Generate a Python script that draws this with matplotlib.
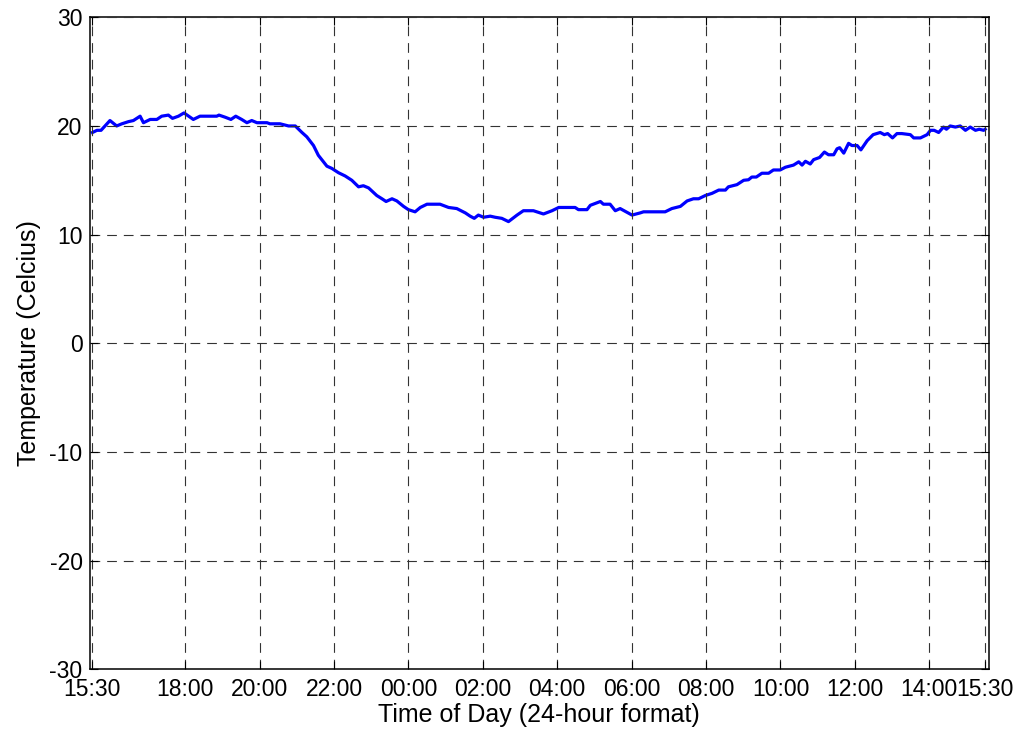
import matplotlib
matplotlib.use("Agg")
import matplotlib.pyplot as plt

# Hours elapsed since 15:30 on the first day, and the logged temperature
hours = [0.01, 0.13, 0.24, 0.48, 0.66, 0.80, 0.98, 1.11, 1.29, 1.38, 1.56, 1.74,
         1.87, 2.05, 2.16, 2.32, 2.47, 2.72, 2.90, 3.35, 3.41, 3.58, 3.73, 3.86,
         4.02, 4.16, 4.29, 4.43, 4.70, 4.78, 5.05, 5.28, 5.46, 5.64, 5.77, 5.95,
         6.08, 6.22, 6.31, 6.44, 6.62, 6.80, 6.98, 7.16, 7.29, 7.43, 7.65, 7.79,
         7.90, 8.06, 8.19, 8.37, 8.50, 8.68, 8.82, 9.00, 9.35, 9.58, 9.80, 10.03,
         10.16, 10.27, 10.38, 10.52, 10.70, 10.83, 11.01, 11.19, 11.42, 11.59,
         11.86, 12.13, 12.36, 12.54, 12.98, 13.07, 13.30, 13.39, 13.66, 13.74,
         13.92, 14.06, 14.19, 14.51, 14.73, 14.82, 15.40, 15.58, 15.81, 15.99,
         16.16, 16.30, 16.48, 16.66, 16.84, 17.02, 17.10, 17.33, 17.51, 17.64,
         17.73, 17.85, 18.00, 18.18, 18.31, 18.49, 18.63, 18.85, 18.99, 19.08,
         19.17, 19.30, 19.39, 19.55, 19.68, 19.79, 19.93, 20.02, 20.09, 20.20,
         20.33, 20.42, 20.56, 20.66, 20.83, 20.99, 21.18, 21.29, 21.38, 21.51,
         21.63, 21.76, 21.99, 22.08, 22.26, 22.44, 22.53, 22.63, 22.75, 22.88,
         22.96, 23.06, 23.20, 23.33, 23.47, 23.60, 23.74, 23.84, 23.96, 24.00]

temperature = [19.4, 19.6, 19.6, 20.5, 20.0, 20.2, 20.4, 20.5, 20.9, 20.3, 20.6, 20.6,
               20.9, 21.0, 20.7, 20.9, 21.2, 20.6, 20.9, 20.9, 21.0, 20.8, 20.6, 20.9,
               20.6, 20.3, 20.5, 20.3, 20.3, 20.2, 20.2, 20.0, 20.0, 19.4, 19.0, 18.2,
               17.3, 16.7, 16.3, 16.1, 15.7, 15.4, 15.0, 14.4, 14.5, 14.3, 13.6, 13.3,
               13.05, 13.3, 13.1, 12.6, 12.3, 12.1, 12.5, 12.8, 12.8, 12.5, 12.4, 12.0,
               11.7, 11.5, 11.8, 11.6, 11.7, 11.6, 11.5, 11.2, 11.8, 12.2,
               12.2, 11.9, 12.2, 12.5, 12.5, 12.3, 12.3, 12.7, 13.05, 12.8,
               12.8, 12.2, 12.4, 11.8, 12.0, 12.1, 12.1, 12.4, 12.6, 13.1,
               13.3, 13.3, 13.6, 13.8, 14.1, 14.1, 14.4, 14.6, 15.0, 15.05,
               15.3, 15.3, 15.65, 15.65, 15.95, 15.95, 16.2, 16.4, 16.7, 16.4,
               16.75, 16.5, 16.9, 17.1, 17.6, 17.35, 17.35, 17.9, 18.0, 17.5,
               18.4, 18.2, 18.2, 17.8, 18.65, 19.2, 19.4, 19.2, 19.3, 18.9,
               19.3, 19.3, 19.2, 18.9, 18.9, 19.2, 19.6, 19.6, 19.4, 19.9,
               19.7, 20.0, 19.9, 20.0, 19.6, 19.9, 19.6, 19.7, 19.6, 19.7]

tick_hours = [0, 2.5, 4.5, 6.5, 8.5, 10.5, 12.5, 14.5, 16.5, 18.5, 20.5, 22.5, 24]
tick_labels = ["15:30", "18:00", "20:00", "22:00", "00:00", "02:00", "04:00",
               "06:00", "08:00", "10:00", "12:00", "14:00", "15:30"]
y_ticks = [-30, -20, -10, 0, 10, 20, 30]

plt.rcParams["font.family"] = ["Liberation Sans", "DejaVu Sans"]
plt.rcParams["lines.scale_dashes"] = False
plt.rcParams["axes.unicode_minus"] = False

fig = plt.figure(figsize=(10.19, 7.35), dpi=100)
ax = fig.add_axes([89.5 / 1019, 1 - 669.3 / 735, (988.5 - 89.5) / 1019, (669.3 - 17.3) / 735])

ax.plot(hours, temperature, color=(0, 0, 1), linewidth=2.3, solid_joinstyle="round")

ax.set_xlim(-0.07, 24.09)
ax.set_ylim(-30, 30)
ax.set_xticks(tick_hours)
ax.set_xticklabels(tick_labels)
ax.set_yticks(y_ticks)

ax.grid(True, color="#333333", linestyle=(0, (7, 5)), linewidth=0.8)
ax.set_axisbelow(False)

ax.tick_params(direction="in", length=6, width=0.8, top=True, right=True,
               labelsize=16.5, colors="black")
ax.tick_params(axis="x", pad=6)
ax.tick_params(axis="y", pad=5)
for s in ax.spines.values():
    s.set_linewidth(1.1)
    s.set_color("black")

ax.set_xlabel("Time of Day (24-hour format)", fontsize=18, labelpad=2)
ax.set_ylabel("Temperature (Celcius)", fontsize=18, labelpad=6)

fig.savefig("out.png", dpi=100, facecolor="white")
